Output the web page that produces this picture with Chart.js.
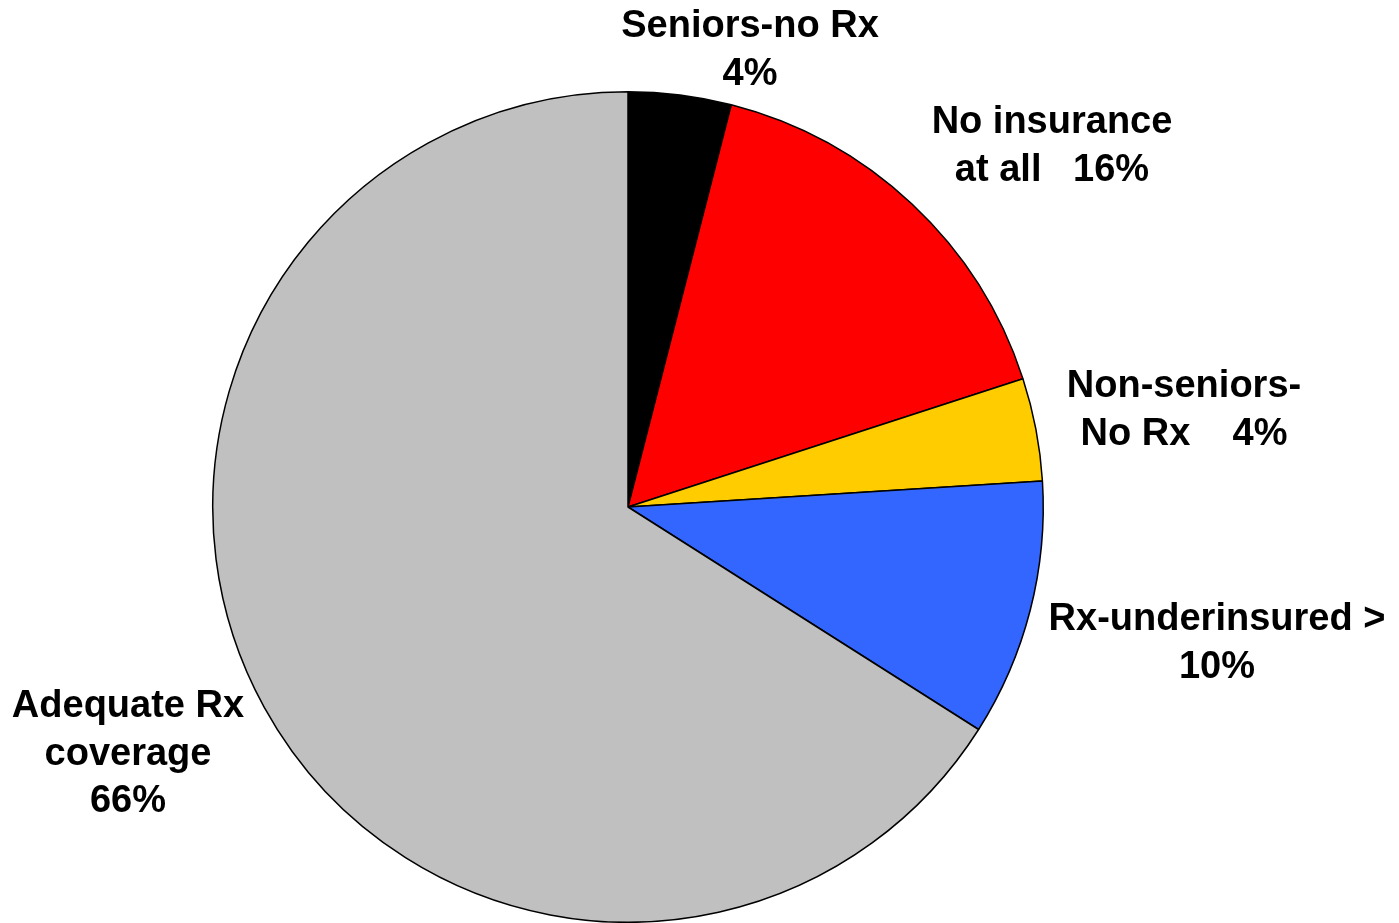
<!DOCTYPE html>
<html>
<head>
<meta charset="utf-8">
<title>Prescription drug coverage</title>
<script src="https://cdn.jsdelivr.net/npm/chart.js@4/dist/chart.umd.min.js"></script>
<style>
    html, body { margin: 0; padding: 0; background: #fff; }
    #wrap { width: 1399px; height: 923px; position: relative; }
</style>
</head>
<body>
<div id="wrap"><canvas id="pie"></canvas></div>
<script>
// Slices, clockwise from 12 o'clock
const categories = ['Seniors-no Rx', 'No insurance at all', 'Non-seniors-No Rx', 'Rx-underinsured >', 'Adequate Rx coverage'];
const shares = [4, 16, 4, 10, 66];
const sliceColors = ['#000000', '#FF0000', '#FFCC00', '#3366FF', '#C0C0C0'];

// Label text lines for each slice
const labelLines = [
    ['Seniors-no Rx', '4%'],
    ['No insurance', 'at all   16%'],
    ['Non-seniors-', 'No Rx    4%'],
    ['Rx-underinsured >', '10%'],
    ['Adequate Rx', 'coverage', '66%']
];

// Where each label block sits, relative to the pie centre (centre of first line)
const labelOffsets = [
    [122, -480],
    [424, -384],
    [556, -120],
    [589, 113],
    [-500, 200]
];

const labelPlugin = {
    id: 'sliceLabels',
    afterDatasetsDraw(chart) {
        const ctx = chart.ctx;
        const arcs = chart.getDatasetMeta(0).data;
        if (!arcs.length) return;
        const cx = arcs[0].x;
        const cy = arcs[0].y;
        ctx.save();
        ctx.fillStyle = '#000';
        ctx.font = 'bold 38px "Liberation Sans", Arial, sans-serif';
        ctx.textAlign = 'center';
        ctx.textBaseline = 'middle';
        labelLines.forEach((lines, i) => {
            const [dx, dy] = labelOffsets[i];
            lines.forEach((line, j) => {
                ctx.fillText(line, cx + dx, cy + dy + j * 47.5);
            });
        });
        ctx.restore();
    }
};

new Chart(document.getElementById('pie'), {
    type: 'pie',
    data: {
        labels: categories,
        datasets: [{
            data: shares,
            backgroundColor: sliceColors,
            borderColor: '#000',
            borderWidth: 1.5
        }]
    },
    options: {
        responsive: true,
        maintainAspectRatio: false,
        animation: false,
        layout: { padding: { top: 91, bottom: 0, left: 0, right: 143 } },
        plugins: {
            legend: { display: false },
            tooltip: { enabled: false }
        }
    },
    plugins: [labelPlugin]
});
</script>
</body>
</html>
